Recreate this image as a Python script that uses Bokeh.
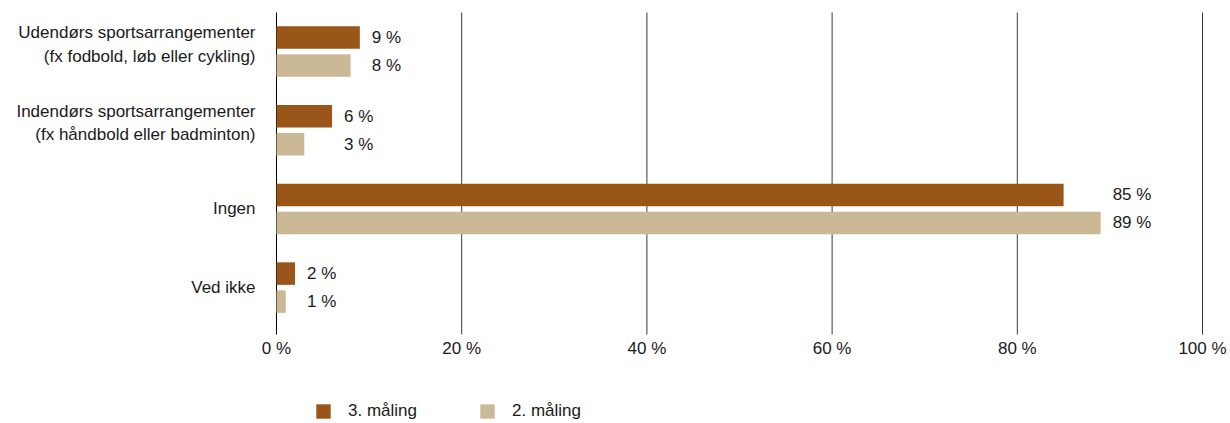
from bokeh.plotting import figure
from bokeh.models import ColumnDataSource, Legend, LegendItem, Range1d
from bokeh.core.properties import value
from bokeh.embed import file_html
from bokeh.resources import INLINE

# ---- data ----
categories = [
    "Udendørs sportsarrangementer\n(fx fodbold, løb eller cykling)",
    "Indendørs sportsarrangementer\n(fx håndbold eller badminton)",
    "Ingen",
    "Ved ikke",
]
series_names = ["3. måling", "2. måling"]
maaling3 = [9, 6, 85, 2]
maaling2 = [8, 3, 89, 1]
x_ticks = [0, 20, 40, 60, 80, 100]
x_tick_labels = ["0 %", "20 %", "40 %", "60 %", "80 %", "100 %"]

# ---- style / layout ----
W, H = 1230, 423
FRAME_L, FRAME_R = 276, 1202          # pixel positions of 0 % and 100 %
PX_X = (FRAME_R - FRAME_L) / 100.0
CAT_PX = 78.7                          # pixels per category row
CAT0_PX = 51                           # pixel centre of first row
PLOT_TOP = -0.496                      # top of grid lines (data units)
PLOT_BOT = 3.596                       # bottom of grid lines (data units)
FONT = "Liberation Sans"
FS = "17px"
TXT = "#1a1a1a"
C3 = "#9a5518"
C2 = "#cbb995"
GRID = "#3a3a3a"
BAR_H = 0.286
DODGE = 0.178
MULTI_SHIFT = 0.089

x_start = -FRAME_L / PX_X
x_end = (W - FRAME_L) / PX_X
y_top = -CAT0_PX / CAT_PX
y_bot = (H - CAT0_PX) / CAT_PX

p = figure(width=W, height=H, output_backend="svg", toolbar_location=None,
           x_range=Range1d(x_start, x_end), y_range=Range1d(y_bot, y_top),
           x_axis_location=None, y_axis_location=None,
           min_border=0, min_border_left=0, min_border_right=0,
           min_border_top=0, min_border_bottom=0)
p.outline_line_color = None
p.xgrid.visible = False
p.ygrid.visible = False
p.background_fill_color = "white"
p.border_fill_color = "white"

idx = list(range(len(categories)))

# grid lines
gsrc = ColumnDataSource(dict(x=x_ticks, y0=[PLOT_TOP] * len(x_ticks), y1=[PLOT_BOT] * len(x_ticks),
                             c=["#000000"] + [GRID] * (len(x_ticks) - 1)))
p.segment(x0="x", x1="x", y0="y0", y1="y1", source=gsrc, line_color="c", line_width=1)

# tick labels
tsrc = ColumnDataSource(dict(x=x_ticks, y=[PLOT_BOT + 14 / CAT_PX] * len(x_ticks), t=x_tick_labels))
p.text(x="x", y="y", text="t", source=tsrc, text_font=value(FONT), text_font_size=value(FS),
       text_color=TXT, text_align="center", text_baseline="middle")

# bars
src3 = ColumnDataSource(dict(y=[i - DODGE for i in idx], v=maaling3))
src2 = ColumnDataSource(dict(y=[i + DODGE for i in idx], v=maaling2))
r3 = p.hbar(y="y", right="v", left=0, height=BAR_H, source=src3, color=C3, line_color=None)
r2 = p.hbar(y="y", right="v", left=0, height=BAR_H, source=src2, color=C2, line_color=None)

# value labels after the longer bar of each group
lab_x, lab_y, lab_t = [], [], []
for i in idx:
    m = max(maaling3[i], maaling2[i])
    lab_x += [m, m]
    lab_y += [i - DODGE, i + DODGE]
    lab_t += [f"{maaling3[i]} %", f"{maaling2[i]} %"]
vsrc = ColumnDataSource(dict(x=lab_x, y=lab_y, t=lab_t))
p.text(x="x", y="y", text="t", source=vsrc, x_offset=12, text_font=value(FONT),
       text_font_size=value(FS), text_color=TXT, text_align="left", text_baseline="middle")

# category labels
csrc = ColumnDataSource(dict(x=[0] * len(categories),
                             y=[i - (MULTI_SHIFT if "\n" in c else 0.0) for i, c in zip(idx, categories)],
                             t=categories))
p.text(x="x", y="y", text="t", source=csrc, x_offset=-21, text_font=value(FONT),
       text_font_size=value(FS), text_color=TXT, text_align="right", text_baseline="middle",
       text_line_height=1.24)

# legend
legend = Legend(items=[LegendItem(label=series_names[0], renderers=[r3]),
                       LegendItem(label=series_names[1], renderers=[r2])],
                location=(314, 2), orientation="horizontal")
legend.background_fill_alpha = 0
legend.border_line_color = None
legend.padding = 0
legend.margin = 0
legend.spacing = 0
legend.glyph_width = 18
legend.glyph_height = 18
legend.label_height = 18
legend.label_width = 130
legend.label_standoff = 16
legend.label_text_font = FONT
legend.label_text_font_size = FS
legend.label_text_color = TXT
p.add_layout(legend, "center")

open("out.html", "w").write(file_html(p, INLINE))
